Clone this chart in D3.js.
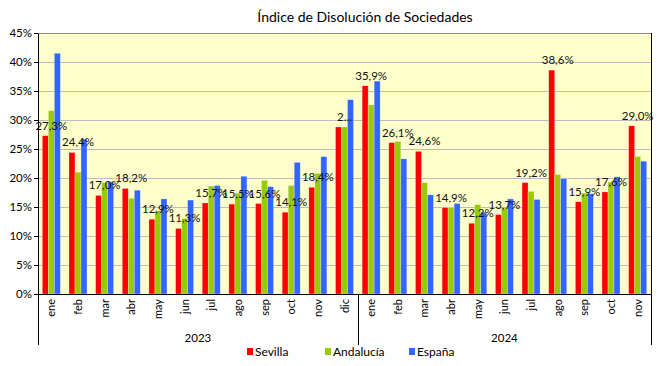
<!DOCTYPE html>
<html>
<head>
<meta charset="utf-8">
<script src="https://cdn.jsdelivr.net/npm/d3@7"></script>
<style>
  body { margin: 0; background: #fff; }
  svg text { font-family: "Lato", "Noto Sans", sans-serif; fill: #000; }
</style>
</head>
<body>
<div id="chart"></div>
<script>
// months shown on the x axis, grouped by year
const months2023 = ["ene", "feb", "mar", "abr", "may", "jun", "jul", "ago", "sep", "oct", "nov", "dic"];
const months2024 = ["ene", "feb", "mar", "abr", "may", "jun", "jul", "ago", "sep", "oct", "nov"];
const years = ["2023", "2024"];
const seriesNames = ["Sevilla", "Andalucía", "España"];
const seriesColors = ["#FF0000", "#99CC00", "#3366FF"];

// values (%)
const sevilla   = [27.3, 24.4, 17.0, 18.2, 12.9, 11.3, 15.7, 15.5, 15.6, 14.1, 18.4, 28.8,
                   35.9, 26.1, 24.6, 14.9, 12.2, 13.7, 19.2, 38.6, 15.9, 17.6, 29.0];
const andalucia = [31.6, 21.0, 19.2, 16.5, 14.4, 13.0, 18.6, 17.4, 19.6, 18.7, 20.8, 28.8,
                   32.6, 26.3, 19.2, 14.9, 15.4, 14.8, 17.7, 20.6, 17.4, 19.3, 23.7];
const espana    = [41.5, 26.7, 19.3, 17.9, 16.4, 16.2, 18.7, 20.3, 18.5, 22.7, 23.7, 33.5,
                   36.7, 23.3, 17.1, 15.6, 14.1, 16.4, 16.3, 19.9, 17.3, 20.2, 22.9];
// data labels shown for Sevilla (dic 2023 is cut off in the original)
const sevillaLabels = ["27,3%", "24,4%", "17,0%", "18,2%", "12,9%", "11,3%", "15,7%", "15,5%", "15,6%", "14,1%", "18,4%", "2...",
                       "35,9%", "26,1%", "24,6%", "14,9%", "12,2%", "13,7%", "19,2%", "38,6%", "15,9%", "17,6%", "29,0%"];
const yTicks = [0, 5, 10, 15, 20, 25, 30, 35, 40, 45];

const categories = [
  ...months2023.map(m => ({ key: "2023-" + m, month: m, year: "2023" })),
  ...months2024.map(m => ({ key: "2024-" + m, month: m, year: "2024" }))
];
const allSeries = [sevilla, andalucia, espana];

const W = 660, H = 366;
const plotLeft = 38, plotRight = 651, plotTop = 33, plotBottom = 294;

const svg = d3.select("#chart").append("svg")
  .attr("width", W).attr("height", H);

const x0 = d3.scaleBand().domain(categories.map(c => c.key)).range([plotLeft, plotRight]).padding(0);
const x1 = d3.scaleBand().domain(seriesNames).range([0, x0.bandwidth()]).paddingInner(0).paddingOuter(0.72);
const y = d3.scaleLinear().domain([0, 45]).range([plotBottom, plotTop]);

// plot background
svg.append("rect")
  .attr("x", plotLeft).attr("y", plotTop)
  .attr("width", plotRight - plotLeft).attr("height", plotBottom - plotTop)
  .attr("fill", "#FFFFCC");

// gridlines
svg.append("g")
  .selectAll("line")
  .data(yTicks.filter(t => t > 0))
  .join("line")
  .attr("x1", plotLeft).attr("x2", plotRight)
  .attr("y1", d => Math.round(y(d)) + 0.5).attr("y2", d => Math.round(y(d)) + 0.5)
  .attr("stroke", t => t === 45 ? "#888" : "#BBBBC8")
  .attr("stroke-width", 1);

// right border
svg.append("line")
  .attr("x1", plotRight + 0.5).attr("x2", plotRight + 0.5)
  .attr("y1", plotTop).attr("y2", plotBottom)
  .attr("stroke", "#000");

// bars
const groups = svg.append("g")
  .selectAll("g")
  .data(categories)
  .join("g")
  .attr("transform", d => `translate(${x0(d.key)},0)`);

groups.selectAll("rect")
  .data((d, i) => seriesNames.map((s, j) => ({ s, j, v: allSeries[j][i] })))
  .join("rect")
  .attr("x", d => x1(d.s))
  .attr("y", d => y(d.v))
  .attr("width", x1.bandwidth())
  .attr("height", d => y(0) - y(d.v))
  .attr("fill", d => seriesColors[d.j])
  .attr("stroke", "rgba(255,255,255,0.45)")
  .attr("stroke-width", 0.6);

// Sevilla labels
svg.append("g")
  .selectAll("text")
  .data(categories)
  .join("text")
  .attr("x", d => x0(d.key) + x0.bandwidth() / 2)
  .attr("y", (d, i) => y(sevilla[i]) - 6)
  .attr("text-anchor", "middle")
  .attr("font-size", 11.5)
  .style("fill", "#111")
  .text((d, i) => sevillaLabels[i]);

// y axis
const yAxis = svg.append("g")
  .attr("transform", `translate(${plotLeft},0)`)
  .call(d3.axisLeft(y).tickValues(yTicks).tickFormat(d => d + "%").tickSize(4).tickSizeOuter(0));
yAxis.select(".domain").attr("stroke", "#000");
yAxis.selectAll(".tick line").attr("stroke", "#000");
yAxis.selectAll("text").attr("font-size", 11.5).attr("font-family", null).attr("dx", 1);

// x axis line
svg.append("line")
  .attr("x1", plotLeft).attr("x2", plotRight + 1)
  .attr("y1", plotBottom + 0.5).attr("y2", plotBottom + 0.5)
  .attr("stroke", "#000");

// month labels
svg.append("g")
  .selectAll("text")
  .data(categories)
  .join("text")
  .attr("transform", d => `translate(${x0(d.key) + x0.bandwidth() / 2 + 4},${plotBottom + 5}) rotate(-90)`)
  .attr("text-anchor", "end")
  .attr("font-size", 11)
  .text(d => d.month);

// year dividers
svg.append("g")
  .selectAll("line")
  .data([plotLeft, x0("2024-ene"), plotRight])
  .join("line")
  .attr("x1", d => Math.round(d) + 0.5).attr("x2", d => Math.round(d) + 0.5)
  .attr("y1", plotBottom).attr("y2", 345)
  .attr("stroke", "#000");

// year labels
svg.append("g")
  .selectAll("text")
  .data(years)
  .join("text")
  .attr("x", yr => {
    const keys = categories.filter(c => c.year === yr).map(c => c.key);
    return (x0(keys[0]) + x0(keys[keys.length - 1]) + x0.bandwidth()) / 2;
  })
  .attr("y", 342)
  .attr("text-anchor", "middle")
  .attr("font-size", 11.5)
  .text(d => d);

// title
svg.append("text")
  .attr("x", 365).attr("y", 22)
  .attr("text-anchor", "middle")
  .attr("font-size", 14)
  .text("Índice de Disolución de Sociedades");

// legend
const legendX = [247, 325, 409];
const legend = svg.append("g")
  .selectAll("g")
  .data(seriesNames)
  .join("g")
  .attr("transform", (d, i) => `translate(${legendX[i]},348)`);
legend.append("rect")
  .attr("width", 6).attr("height", 7)
  .attr("fill", (d, i) => seriesColors[i]);
legend.append("text")
  .attr("x", 8).attr("y", 7.5)
  .attr("font-size", 12)
  .text(d => d);
</script>
</body>
</html>
